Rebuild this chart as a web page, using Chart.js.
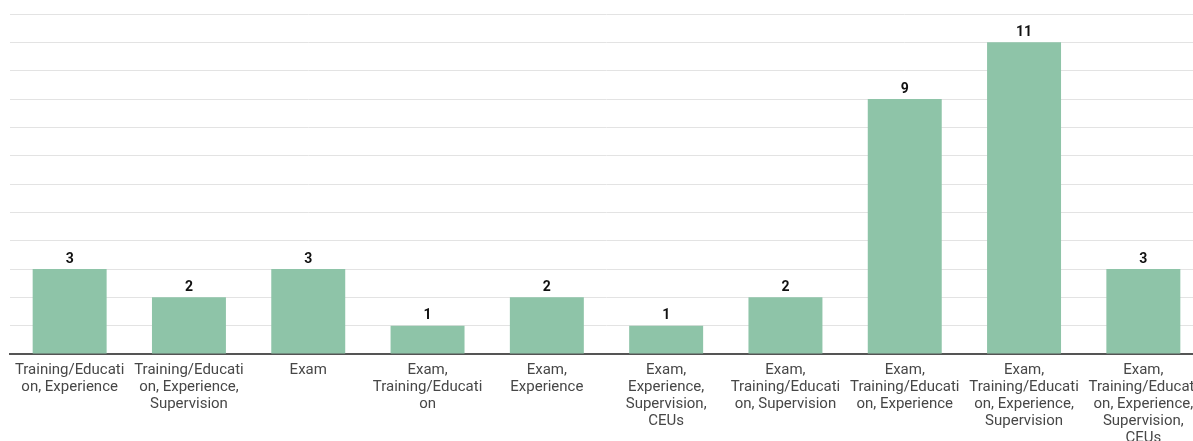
<!DOCTYPE html>
<html>
<head>
<meta charset="utf-8">
<script src="https://cdn.jsdelivr.net/npm/chart.js@4"></script>
<style>
  html, body { margin: 0; padding: 0; background: #fff; overflow: hidden; }
  #wrap { width: 1203px; height: 441px; }
</style>
</head>
<body>
<div id="wrap"><canvas id="c" width="1203" height="441"></canvas></div>
<script>
// Requirement combinations (labels pre-wrapped into lines)
const categories = [
  ["Training/Educati", "on, Experience"],
  ["Training/Educati", "on, Experience,", "Supervision"],
  ["Exam"],
  ["Exam,", "Training/Educati", "on"],
  ["Exam,", "Experience"],
  ["Exam,", "Experience,", "Supervision,", "CEUs"],
  ["Exam,", "Training/Educati", "on, Supervision"],
  ["Exam,", "Training/Educati", "on, Experience"],
  ["Exam,", "Training/Educati", "on, Experience,", "Supervision"],
  ["Exam,", "Training/Educati", "on, Experience,", "Supervision,", "CEUs"]
];
const counts = [3, 2, 3, 1, 2, 1, 2, 9, 11, 3];
const yMax = 12;

// Writes each bar's value above it
const valueLabels = {
  id: 'valueLabels',
  afterDatasetsDraw(chart) {
    const ctx = chart.ctx;
    const meta = chart.getDatasetMeta(0);
    ctx.save();
    ctx.font = 'bold 14px Roboto';
    ctx.fillStyle = '#111';
    ctx.textAlign = 'center';
    ctx.textBaseline = 'middle';
    meta.data.forEach((bar, i) => {
      ctx.fillText(String(counts[i]), bar.x, bar.y - 10);
    });
    ctx.restore();
  }
};

new Chart(document.getElementById('c'), {
  type: 'bar',
  data: {
    labels: categories,
    datasets: [{
      data: counts,
      backgroundColor: '#8ec4a8',
      borderWidth: 0,
      categoryPercentage: 1,
      barPercentage: 0.62
    }]
  },
  options: {
    responsive: false,
    animation: false,
    layout: { padding: { left: 10, right: 0, top: 14, bottom: 0 } },
    plugins: { legend: { display: false }, tooltip: { enabled: false } },
    scales: {
      x: {
        grid: { display: false },
        border: { display: true, color: '#555', width: 2 },
        ticks: {
          autoSkip: false,
          maxRotation: 0,
          minRotation: 0,
          padding: 0,
          color: '#474747',
          font: { family: 'Roboto', size: 15, lineHeight: '17px' }
        },
        afterFit(scale) { scale.height = 87; }
      },
      y: {
        min: 0,
        max: yMax,
        ticks: { display: false, stepSize: 1 },
        grid: { color: '#e3e3e3', lineWidth: 1, drawTicks: false },
        border: { display: false },
        afterFit(scale) { scale.width = 0; }
      }
    }
  },
  plugins: [valueLabels]
});
</script>
</body>
</html>
